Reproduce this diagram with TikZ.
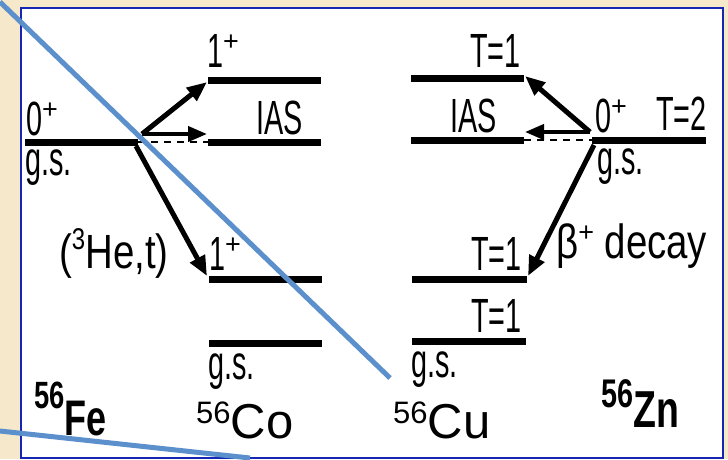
\documentclass[tikz,border=0pt]{standalone}
\usepackage{fontspec}
\setmainfont{Liberation Sans}
\newfontfamily\cond[FakeStretch=0.6]{Liberation Sans}
\newfontfamily\condw[FakeStretch=0.8]{Liberation Sans}
\newfontfamily\condb[FakeStretch=0.72]{Liberation Sans}
\usetikzlibrary{arrows.meta}
\definecolor{parch}{RGB}{246,232,202}
\definecolor{frameblue}{RGB}{22,38,178}
\definecolor{lineblue}{RGB}{92,144,204}
\newcommand{\lab}{\cond\fontsize{48}{48}\selectfont}
\newcommand{\labw}{\condw\fontsize{48}{48}\selectfont}
\newcommand{\supplus}{{\rmfamily\fontsize{27}{27}\selectfont\raisebox{17pt}{+}}}
\tikzset{
  level/.style={line width=7pt},
  trans/.style={line width=5pt,-{Triangle[length=20pt,width=16pt]}},
  transh/.style={line width=4pt,-{Triangle[length=19pt,width=15pt]}},
  dashlvl/.style={line width=2pt,dash pattern=on 7pt off 6pt},
  txt/.style={inner sep=0pt,font=\lab},
  txtw/.style={inner sep=0pt,font=\labw},
  overline/.style={lineblue,line width=5pt},
}
\begin{document}
\begin{tikzpicture}[x=1pt,y=-1pt]
\fill[parch] (0,0) rectangle (728,459);
\useasboundingbox (0,0) rectangle (728,459);
\draw[frameblue,line width=2.5pt,fill=white] (21,8) rectangle (723,458);
% level coordinates
\coordinate (feL) at (25,142);  \coordinate (feR) at (138,142);
\coordinate (co1L) at (208,80); \coordinate (co1R) at (321,80);
\coordinate (coIL) at (208,142);\coordinate (coIR) at (321,142);
\coordinate (co2L) at (209,279);\coordinate (co2R) at (322,279);
\coordinate (cogL) at (209,343);\coordinate (cogR) at (322,343);
\coordinate (cu1L) at (411,78); \coordinate (cu1R) at (524,78);
\coordinate (cuIL) at (411,140);\coordinate (cuIR) at (524,140);
\coordinate (znL) at (592,140); \coordinate (znR) at (706,140);
\coordinate (cu2L) at (412,279);\coordinate (cu2R) at (527,279);
\coordinate (cugL) at (412,341);\coordinate (cugR) at (526,341);
% levels
\foreach \a/\b in {feL/feR,co1L/co1R,coIL/coIR,co2L/co2R,cogL/cogR,cu1L/cu1R,cuIL/cuIR,znL/znR,cu2L/cu2R,cugL/cugR}
  \draw[level] (\a) -- (\b);
\draw[dashlvl] (feR) -- (coIL);
\draw[dashlvl] (cuIR) -- (znL);
% transitions
\coordinate (feS) at (142,134);
\coordinate (feD) at (136,146);
\coordinate (t1) at (207,82);
\coordinate (t2) at (207,134);
\coordinate (t3) at (207,276);
\coordinate (znS) at (590,132);
\coordinate (znD) at (594,145);
\coordinate (u1) at (525,76);
\coordinate (u2) at (525,132);
\coordinate (u3) at (528,276);
\draw[trans] (feS) -- (t1);
\draw[transh] (feS) -- (t2);
\draw[trans] (feD) -- (t3);
\draw[trans] (znS) -- (u1);
\draw[transh] (znS) -- (u2);
\draw[trans] (znD) -- (u3);
% labels
\node[txt,anchor=base west] (fe0) at (26,135) {0\supplus};
\node[txt,anchor=base west] (fegs) at (25,175) {g.s.};
\node[txt,anchor=base west] (co1) at (207,67) {1\supplus};
\node[txt,anchor=base east] (coias) at (303,134) {IAS};
\node[txtw,anchor=base west] (he) at (59,268) {({\fontsize{30}{30}\selectfont\raisebox{19pt}{3}}He,t)};
\node[txt,anchor=base west] (co2) at (209,270) {1\supplus};
\node[txt,anchor=base west] (cogs) at (208,379) {g.s.};
\node[txt,anchor=base east] (cu1) at (521,67) {T=1};
\node[txt,anchor=base east] (cuias) at (497,132) {IAS};
\node[txt,anchor=base west] (zn0) at (595,132) {0\supplus};
\node[txt,anchor=base east] (znT) at (707,130) {T=2};
\node[txt,anchor=base west] (zngs) at (597,174) {g.s.};
\node[txtw,anchor=base west] (beta) at (556,258) {β\supplus\ decay};
\node[txt,anchor=base east] (cu2) at (522,270) {T=1};
\node[txt,anchor=base east] (cug) at (522,332) {T=1};
\node[txt,anchor=base west] (cugs) at (411,377) {g.s.};
% nuclide names
\node[inner sep=0pt,anchor=base west] (fe) at (34,435) {\condb\bfseries{\fontsize{38}{38}\selectfont\raisebox{27pt}{56}}{\fontsize{50}{50}\selectfont Fe}};
\node[inner sep=0pt,anchor=base west] (co) at (196,438) {{\fontsize{31}{31}\selectfont\raisebox{15pt}{56}}{\fontsize{49}{49}\selectfont Co}};
\node[inner sep=0pt,anchor=base west] (cu) at (393,438) {{\fontsize{31}{31}\selectfont\raisebox{15pt}{56}}{\fontsize{49}{49}\selectfont Cu}};
\node[inner sep=0pt,anchor=base west] (zn) at (601,427) {\condb\bfseries{\fontsize{40}{40}\selectfont\raisebox{20pt}{56}}{\fontsize{52}{52}\selectfont Zn}};
% overlaid blue strokes
\coordinate (bA) at (0,2);   \coordinate (bB) at (390,378);
\coordinate (bC) at (0,431); \coordinate (bD) at (250,458);
\draw[overline] (bA) -- (bB);
\draw[overline] (bC) -- (bD);
\end{tikzpicture}
\end{document}
